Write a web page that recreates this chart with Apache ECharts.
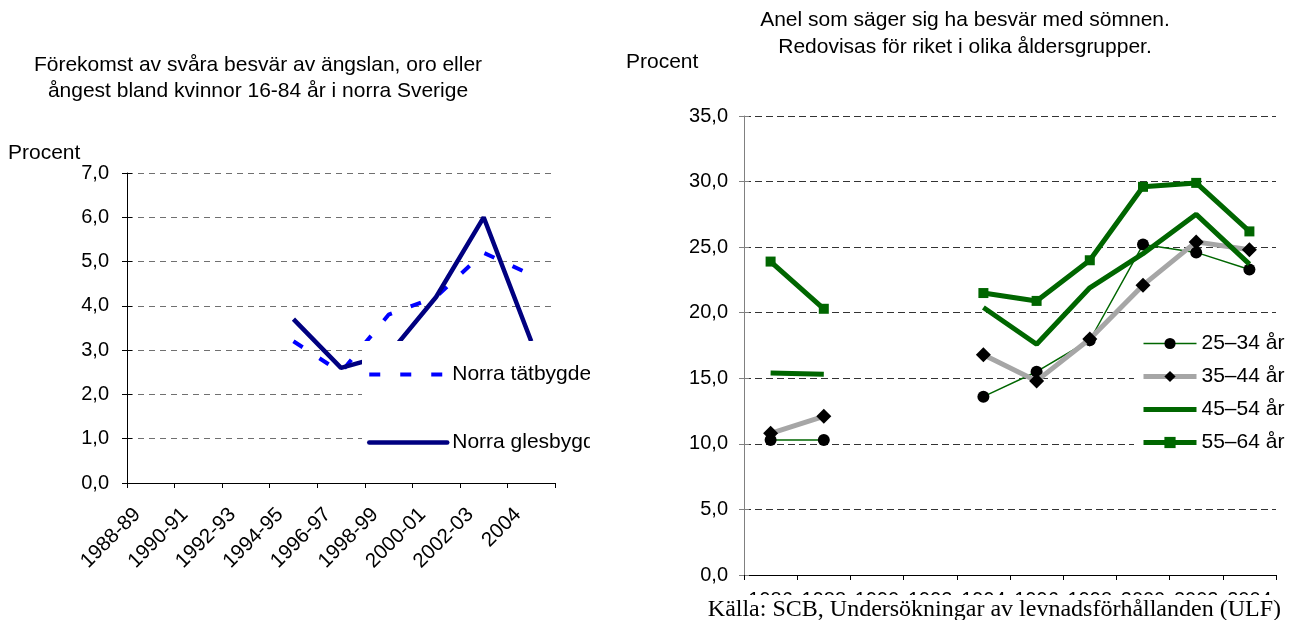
<!DOCTYPE html>
<html><head><meta charset="utf-8">
<script src="https://cdn.jsdelivr.net/npm/echarts@6/dist/echarts.min.js"></script>
<style>
html,body{margin:0;padding:0;background:#fff;overflow:hidden;}
#l{position:absolute;left:0;top:0;width:590px;height:620px;}
#r{position:absolute;left:590px;top:0;width:700px;height:620px;}
</style>
</head><body><div id="l"></div><div id="r"></div>
<script>
// ---- Left chart data ----
const leftCategories = ['1988-89','1990-91','1992-93','1994-95','1996-97','1998-99','2000-01','2002-03','2004'];
const tatbygd  = [null, null, null, 3.2, 2.5, 3.8, 4.2, 5.2, 4.7];
const glesbygd = [null, null, null, 3.7, 2.6, 2.9, 4.2, 6.0, 3.2];
const leftYTicks = { min: 0, max: 7, interval: 1 };

// ---- Right chart data ----
const rightCategories = ['1986','1988','1990','1992','1994','1996','1998','2000','2002','2004'];
const age2534 = [10.3, 10.3, null, null, 13.6, 15.5, 17.9, 25.2, 24.6, 23.3];
const age3544 = [10.8, 12.1, null, null, 16.8, 14.8, 18.0, 22.1, 25.4, 24.8];
const age4554 = [15.4, 15.3, null, null, 20.4, 17.6, 21.9, 24.5, 27.5, 23.7];
const age5564 = [23.9, 20.3, null, null, 21.5, 20.9, 24.0, 29.6, 29.9, 26.2];
const rightYTicks = { min: 0, max: 35, interval: 5 };

const FONT = '"Liberation Sans", Arial, sans-serif';
const SERIF = '"Liberation Serif", "Times New Roman", serif';
const GREEN = '#006600';
const GRAY = '#A6A6A6';
function comma(v) { return v.toFixed(1).replace('.', ','); }
function txt(x, y, text, opts) {
  const o = Object.assign({ size: 21, align: 'left', family: FONT }, opts || {});
  return { type: 'text', x: x, y: y, z: 100, style: Object.assign({
    text: text, fill: '#000', fontSize: o.size, fontFamily: o.family,
    align: o.align, verticalAlign: 'middle', textAlign: o.align, textVerticalAlign: 'middle'
  }, o.extra || {}) };
}

// ---------------- LEFT ----------------
const left = echarts.init(document.getElementById('l'));
left.setOption({
  animation: false,
  textStyle: { fontFamily: FONT },
  grid: { left: 127, right: 35, top: 173, bottom: 137 },
  xAxis: {
    type: 'category', data: leftCategories, boundaryGap: true,
    axisLine: { lineStyle: { color: '#000', width: 1 } },
    axisTick: { show: true, length: 5, interval: 0, lineStyle: { color: '#000' } },
    axisLabel: { rotate: 45, margin: 15, fontSize: 20.5, color: '#000', interval: 0, padding: [0, 19, 0, 0] },
    splitLine: { show: false }
  },
  yAxis: [{
    type: 'value', position: 'left', min: leftYTicks.min, max: leftYTicks.max, interval: leftYTicks.interval,
    axisLine: { show: true, lineStyle: { color: '#000' } },
    axisTick: { show: true, length: 5, lineStyle: { color: '#000' } },
    axisLabel: { formatter: comma, fontSize: 20, color: '#000', margin: 18 },
    splitLine: { show: true, lineStyle: { color: '#707070', type: [6, 5], width: 1 } }
  }, {
    type: 'value', position: 'left', min: leftYTicks.min, max: leftYTicks.max, interval: leftYTicks.interval,
    axisLine: { show: false }, axisLabel: { show: false }, splitLine: { show: false },
    axisTick: { show: true, inside: true, length: 5, lineStyle: { color: '#000' } }
  }],
  legend: {
    orient: 'vertical', left: 362, top: 341, padding: [23, 80, 20, 5],
    backgroundColor: '#fff', itemWidth: 78, itemHeight: 20, itemGap: 47,
    selectedMode: false, z: 10,
    textStyle: { fontSize: 21, color: '#000', fontFamily: FONT },
    data: [
      { name: 'Norra tätbygden', itemStyle: { opacity: 0 }, lineStyle: { width: 4, type: [11, 20], color: '#0000FF' } },
      { name: 'Norra glesbygden', itemStyle: { opacity: 0 }, lineStyle: { width: 4.5, color: '#000080', cap: 'round' } }
    ]
  },
  series: [
    { name: 'Norra tätbygden', type: 'line', data: tatbygd, symbol: 'none', z: 2,
      itemStyle: { color: '#0000FF' },
      lineStyle: { color: '#0000FF', width: 4, type: [11, 20], cap: 'butt' } },
    { name: 'Norra glesbygden', type: 'line', data: glesbygd, symbol: 'none', z: 3,
      itemStyle: { color: '#000080' },
      lineStyle: { color: '#000080', width: 4.5 } }
  ],
  graphic: [
    txt(258, 65, 'Förekomst av svåra besvär av ängslan, oro eller', { align: 'center' }),
    txt(258, 91, 'ångest bland kvinnor 16-84 år i norra Sverige', { align: 'center' }),
    txt(8, 153, 'Procent')
  ]
});

// ---------------- RIGHT ----------------
const right = echarts.init(document.getElementById('r'));
right.setOption({
  animation: false,
  textStyle: { fontFamily: FONT },
  grid: { left: 154, right: 14, top: 116, bottom: 45 },
  xAxis: {
    type: 'category', data: rightCategories, boundaryGap: true,
    axisLine: { lineStyle: { color: '#000', width: 1 } },
    axisTick: { show: true, length: 5, interval: 0, lineStyle: { color: '#000' } },
    axisLabel: { margin: 15, fontSize: 20, color: '#000', interval: 0 },
    splitLine: { show: false }
  },
  yAxis: [{
    type: 'value', position: 'left', min: rightYTicks.min, max: rightYTicks.max, interval: rightYTicks.interval,
    axisLine: { show: true, lineStyle: { color: '#808080' } },
    axisTick: { show: true, length: 5, lineStyle: { color: '#808080' } },
    axisLabel: { formatter: comma, fontSize: 20, color: '#000', margin: 16 },
    splitLine: { show: true, lineStyle: { color: '#333', type: [7, 4], width: 1 } }
  }, {
    type: 'value', position: 'left', min: rightYTicks.min, max: rightYTicks.max, interval: rightYTicks.interval,
    axisLine: { show: false }, axisLabel: { show: false }, splitLine: { show: false },
    axisTick: { show: true, inside: true, length: 5, lineStyle: { color: '#808080' } }
  }],
  legend: {
    orient: 'vertical', left: 544, top: 325, padding: [8, 40, 10, 7],
    backgroundColor: '#fff', itemWidth: 53, itemHeight: 14, itemGap: 12,
    selectedMode: false, z: 10,
    textStyle: { fontSize: 21, color: '#000', fontFamily: FONT },
    data: [
      { name: '25–34 år', lineStyle: { width: 1.5, color: GREEN } },
      { name: '35–44 år', lineStyle: { width: 5, color: GRAY } },
      { name: '45–54 år', itemStyle: { opacity: 0 }, lineStyle: { width: 5, color: GREEN } },
      { name: '55–64 år', lineStyle: { width: 5, color: GREEN } }
    ]
  },
  series: [
    { name: '25–34 år', type: 'line', data: age2534, symbol: 'circle', symbolSize: 12, z: 2,
      itemStyle: { color: '#000', borderWidth: 0 }, lineStyle: { color: GREEN, width: 1.5 } },
    { name: '35–44 år', type: 'line', data: age3544, symbol: 'diamond', symbolSize: 15, z: 3,
      itemStyle: { color: '#000', borderWidth: 0 }, lineStyle: { color: GRAY, width: 5 } },
    { name: '45–54 år', type: 'line', data: age4554, symbol: 'none', z: 4,
      itemStyle: { color: GREEN }, lineStyle: { color: GREEN, width: 5 } },
    { name: '55–64 år', type: 'line', data: age5564, symbol: 'rect', symbolSize: 10, z: 5,
      itemStyle: { color: GREEN, borderWidth: 0 }, lineStyle: { color: GREEN, width: 5 } }
  ],
  graphic: [
    txt(375, 20, 'Anel som säger sig ha besvär med sömnen.', { align: 'center' }),
    txt(375, 47, 'Redovisas för riket i olika åldersgrupper.', { align: 'center' }),
    txt(36, 62, 'Procent'),
    txt(695, 610, 'Källa: SCB, Undersökningar av levnadsförhållanden (ULF)',
        { align: 'right', size: 24, family: SERIF, extra: { backgroundColor: '#fff', padding: [3, 4, 3, 4] } })
  ]
});
</script>
</body></html>
